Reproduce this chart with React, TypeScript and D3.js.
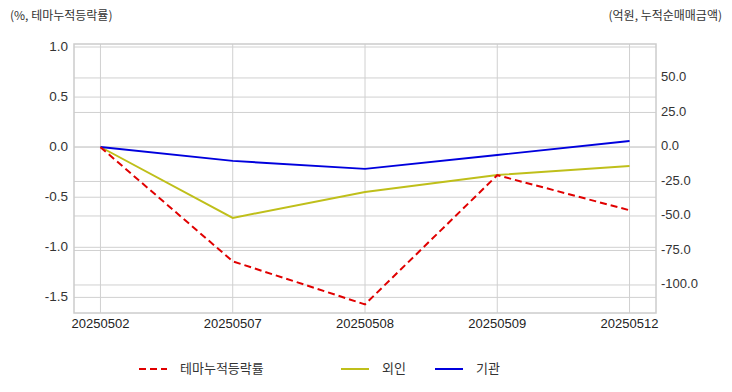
import { useEffect, useRef } from 'react'
import * as d3 from 'd3'

const dates = ['20250502', '20250507', '20250508', '20250509', '20250512']
const themeReturn = [0, -1.14, -1.57, -0.28, -0.63]
const foreign = [0, -51.4, -32.6, -20.3, -13.8]
const institution = [0, -10.1, -15.9, -5.8, 4.3]
const leftTicks = [1.0, 0.5, 0.0, -0.5, -1.0, -1.5]
const rightTicks = [50, 25, 0, -25, -50, -75, -100]

const W = 732
const H = 392
const font = "'Liberation Sans', Arial, sans-serif"
const krFont = "'Noto Sans CJK KR', sans-serif"

export default function App() {
  const svgRef = useRef<SVGSVGElement>(null)

  useEffect(() => {
    if (!svgRef.current) return
    const root = d3.select(svgRef.current)
    root.selectAll('*').remove()

    const left = 74, right = 656, top = 44, bottom = 313

    const x = d3.scalePoint<string>().domain(dates).range([left, right]).padding(0.2)
    const yL = d3.scaleLinear().domain([-1.656, 1.03]).range([bottom, top])
    const yR = d3.scaleLinear().domain([-120.3, 74.6]).range([bottom, top])

    root.append('rect').attr('width', W).attr('height', H).attr('fill', '#fff')

    const grid = root.append('g').attr('stroke', '#d0d0d0').attr('stroke-width', 1)
    // vertical grid
    grid.selectAll('.vx').data(dates).join('line')
      .attr('x1', d => x(d)!).attr('x2', d => x(d)!)
      .attr('y1', top).attr('y2', bottom)
    // left grid
    grid.selectAll('.hl').data(leftTicks).join('line')
      .attr('class', 'hl')
      .attr('x1', left).attr('x2', right)
      .attr('y1', d => yL(d)).attr('y2', d => yL(d))
    // right grid
    grid.selectAll('.hr').data(rightTicks).join('line')
      .attr('class', 'hr')
      .attr('x1', left).attr('x2', right)
      .attr('y1', d => yR(d)).attr('y2', d => yR(d))

    root.append('rect')
      .attr('x', left).attr('y', top)
      .attr('width', right - left).attr('height', bottom - top)
      .attr('fill', 'none').attr('stroke', '#cccccc').attr('stroke-width', 1.5)

    // left ticks
    root.append('g').selectAll('text').data(leftTicks).join('text')
      .attr('x', left - 6).attr('y', d => yL(d))
      .attr('text-anchor', 'end').attr('dominant-baseline', 'middle')
      .attr('font-family', font).attr('font-size', 13.5).attr('fill', '#333')
      .text(d => d.toFixed(1))

    // right ticks
    root.append('g').selectAll('text').data(rightTicks).join('text')
      .attr('x', right + 5).attr('y', d => yR(d))
      .attr('dominant-baseline', 'middle')
      .attr('font-family', font).attr('font-size', 13).attr('fill', '#333')
      .text(d => d.toFixed(1))

    // x ticks
    root.append('g').selectAll('text').data(dates).join('text')
      .attr('x', d => x(d)!).attr('y', bottom + 15)
      .attr('text-anchor', 'middle')
      .attr('font-family', font).attr('font-size', 13).attr('fill', '#222')
      .text(d => d)

    // axis titles
    root.append('text').attr('x', 10).attr('y', 20)
      .attr('font-family', krFont).attr('font-size', 12).attr('fill', '#333')
      .text('(%, 테마누적등락률)')
    root.append('text').attr('x', 722).attr('y', 20).attr('text-anchor', 'end')
      .attr('font-family', krFont).attr('font-size', 12).attr('fill', '#333')
      .text('(억원, 누적순매매금액)')

    const lineL = d3.line<number>().x((_, i) => x(dates[i])!).y(d => yL(d))
    const lineR = d3.line<number>().x((_, i) => x(dates[i])!).y(d => yR(d))

    root.append('path').attr('d', lineR(foreign)!)
      .attr('fill', 'none').attr('stroke', '#bfbf1a').attr('stroke-width', 1.9)
    root.append('path').attr('d', lineR(institution)!)
      .attr('fill', 'none').attr('stroke', '#0000dd').attr('stroke-width', 1.9)
    root.append('path').attr('d', lineL(themeReturn)!)
      .attr('fill', 'none').attr('stroke', '#e00000').attr('stroke-width', 2)
      .attr('stroke-dasharray', '7,4')

    // legend
    const legend = [
      { label: '테마누적등락률', color: '#e00000', dash: '7,4', x: 139 },
      { label: '외인', color: '#bfbf1a', dash: null, x: 341 },
      { label: '기관', color: '#0000dd', dash: null, x: 435 },
    ]
    const lg = root.append('g')
    legend.forEach(l => {
      lg.append('line').attr('x1', l.x).attr('x2', l.x + 28)
        .attr('y1', 369).attr('y2', 369)
        .attr('stroke', l.color).attr('stroke-width', 2)
        .attr('stroke-dasharray', l.dash)
      lg.append('text').attr('x', l.x + 41).attr('y', 369)
        .attr('dominant-baseline', 'middle')
        .attr('font-family', krFont).attr('font-size', 13).attr('fill', '#333')
        .text(l.label)
    })
  }, [])

  return (
    <div style={{ margin: -8 }}>
      <svg ref={svgRef} width={W} height={H} style={{ display: 'block' }} />
    </div>
  )
}
